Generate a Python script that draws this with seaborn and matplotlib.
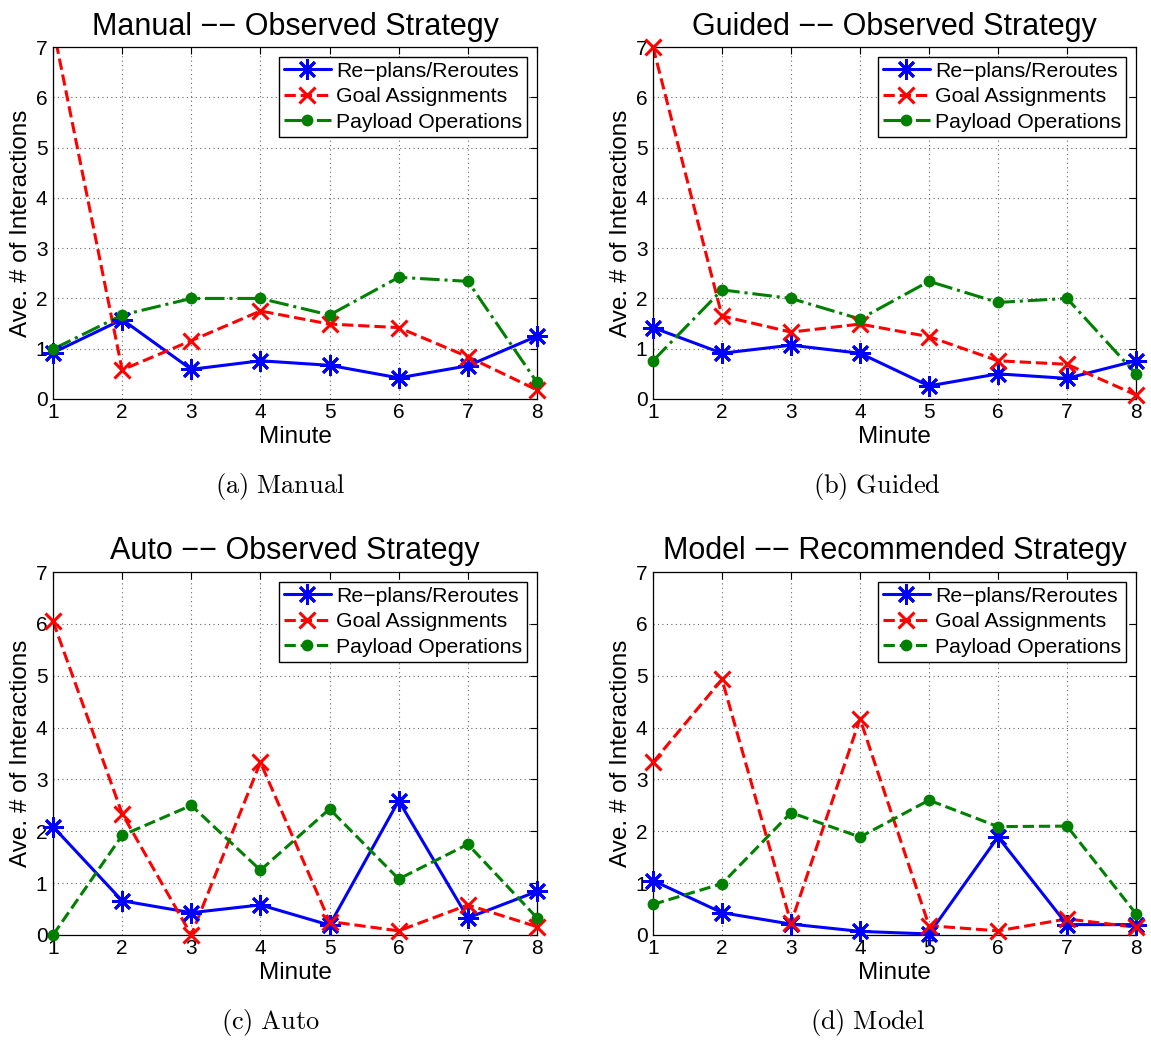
import matplotlib
matplotlib.use("Agg")
import matplotlib.pyplot as plt
from matplotlib.lines import Line2D
import seaborn as sns
import numpy as np

# ---------------- data ----------------
minutes = [1, 2, 3, 4, 5, 6, 7, 8]
series_names = ["Re\u2212plans/Reroutes", "Goal Assignments", "Payload Operations"]

manual_replans = [0.92, 1.58, 0.59, 0.76, 0.67, 0.42, 0.66, 1.25]
manual_goals = [7.4, 0.58, 1.16, 1.75, 1.49, 1.42, 0.84, 0.18]
manual_payload = [0.99, 1.67, 2.0, 2.0, 1.67, 2.42, 2.34, 0.33]

guided_replans = [1.42, 0.91, 1.07, 0.91, 0.26, 0.50, 0.41, 0.76]
guided_goals = [7.0, 1.65, 1.33, 1.49, 1.24, 0.76, 0.69, 0.08]
guided_payload = [0.76, 2.17, 2.0, 1.59, 2.34, 1.92, 2.0, 0.50]

auto_replans = [2.09, 0.66, 0.43, 0.58, 0.19, 2.59, 0.33, 0.84]
auto_goals = [6.05, 2.34, 0.0, 3.33, 0.26, 0.08, 0.58, 0.16]
auto_payload = [0.0, 1.92, 2.5, 1.25, 2.43, 1.08, 1.75, 0.33]

model_replans = [1.05, 0.43, 0.21, 0.07, 0.02, 1.89, 0.20, 0.20]
model_goals = [3.33, 4.93, 0.23, 4.17, 0.18, 0.08, 0.31, 0.15]
model_payload = [0.59, 0.99, 2.36, 1.89, 2.60, 2.09, 2.10, 0.41]

titles = ["Manual \u2212\u2212 Observed Strategy", "Guided \u2212\u2212 Observed Strategy",
          "Auto \u2212\u2212 Observed Strategy", "Model \u2212\u2212 Recommended Strategy"]
captions = ["(a) Manual", "(b) Guided", "(c) Auto", "(d) Model"]
yticks = [0, 1, 2, 3, 4, 5, 6, 7]

# ---------------- style ----------------
sns.set_style("white")
plt.rcParams["font.family"] = ["Liberation Sans", "DejaVu Sans"]
plt.rcParams["mathtext.fontset"] = "cm"
plt.rcParams["text.color"] = "black"
plt.rcParams["axes.labelcolor"] = "black"

W, H = 1151, 1045
fig = plt.figure(figsize=(W / 100, H / 100), dpi=100)

panels = [
    (manual_replans, manual_goals, manual_payload, "-."),
    (guided_replans, guided_goals, guided_payload, "-."),
    (auto_replans, auto_goals, auto_payload, "--"),
    (model_replans, model_goals, model_payload, "--"),
]
# axes boxes in pixels: left, top, right, bottom
boxes = [(53, 47, 537, 399), (653, 47, 1136, 399),
         (53, 572, 537, 935), (653, 572, 1136, 935)]
cap_pos = [(280, 486), (877, 486), (271, 1023), (868, 1023)]

asterisk = (8, 2, 0)
BLUE, RED, GREEN = "#0000ff", "#ff0000", "#008000"

styles = [
    dict(color=BLUE, marker=asterisk, markersize=15, markeredgewidth=2.0,
         markeredgecolor=BLUE, markerfacecolor=BLUE),
    dict(color=RED, marker="x", markersize=12, markeredgewidth=2.2,
         markeredgecolor=RED, markerfacecolor=RED),
    dict(color=GREEN, marker="o", markersize=8.5, markeredgewidth=0,
         markerfacecolor=GREEN, markeredgecolor=GREEN),
]

for i, ((rep, goal, pay, pstyle), (l, t, r, b)) in enumerate(zip(panels, boxes)):
    ax = fig.add_axes([l / W, 1 - b / H, (r - l) / W, (b - t) / H])
    ax.set_xlim(1, 8)
    ax.set_ylim(0, 7)
    handles = []
    for vals, ls, st, name in zip([rep, goal, pay], ["-", "--", pstyle], styles, series_names):
        # line (clipped to the axes)
        sns.lineplot(x=minutes, y=vals, ax=ax, color=st["color"], linestyle=ls, lw=2.2,
                     clip_on=True, legend=False)
        # markers (drawn fully, only for points inside the y range)
        shown = [v if v <= 7 else np.nan for v in vals]
        mk = {k: v for k, v in st.items() if k != "color"}
        sns.lineplot(x=minutes, y=shown, ax=ax, linestyle="none", clip_on=False,
                     legend=False, zorder=3, **mk)
        handles.append(Line2D([], [], color=st["color"], linestyle=ls, lw=2.2, **mk))
    ax.set_xlim(1, 8)
    ax.set_ylim(0, 7)
    ax.set_xticks(minutes)
    ax.set_yticks(yticks)
    ax.tick_params(direction="in", top=True, right=True, length=5, width=0.8,
                   labelsize=15, colors="black")
    ax.tick_params(axis="x", pad=3)
    ax.tick_params(axis="y", pad=4)
    ax.grid(True, linestyle=(0, (1, 3)), color="#666666", linewidth=0.8)
    for sp in ax.spines.values():
        sp.set_color("black")
        sp.set_linewidth(0.9)
    ax.set_xlabel("Minute", fontsize=17.5, labelpad=3)
    ax.set_ylabel("Ave. # of Interactions", fontsize=17.5, labelpad=3)
    ax.set_title(titles[i], fontsize=22, pad=9)
    leg = ax.legend(handles, series_names, loc="upper right", fontsize=15.3, frameon=True,
                    fancybox=False, framealpha=1, edgecolor="black", borderpad=0.25,
                    labelspacing=0.3, handlelength=2.2, handletextpad=0.25,
                    borderaxespad=0.45)
    leg.get_frame().set_linewidth(1.0)
    leg.set_zorder(5)
    cx, cy = cap_pos[i]
    fig.text(cx / W, 1 - cy / H, r"$\mathrm{" + captions[i].replace(" ", r"\ ") + "}$",
             ha="center", va="center", fontsize=19)

fig.savefig("out.png", dpi=100)
